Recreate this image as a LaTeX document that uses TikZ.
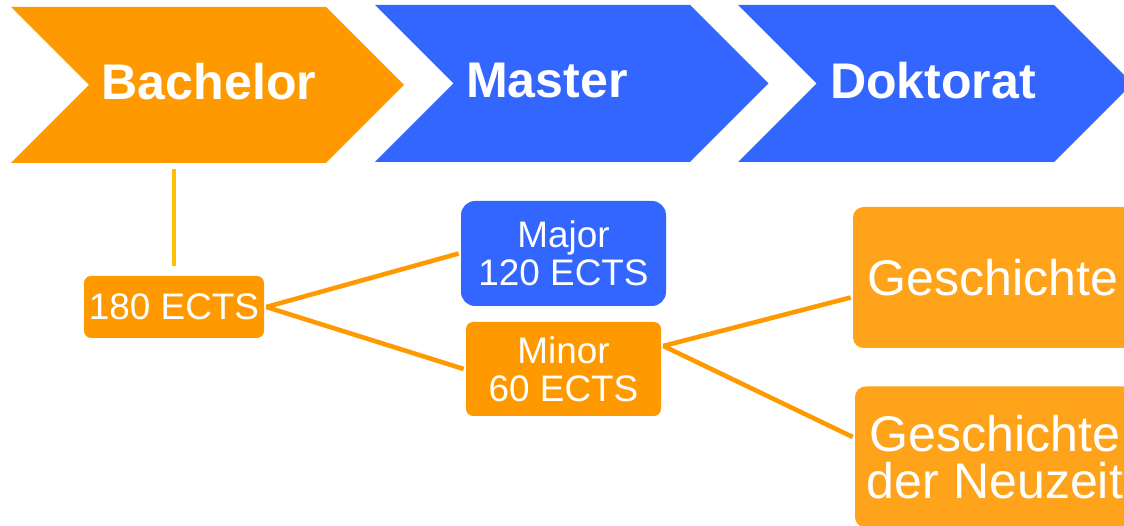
\documentclass[tikz,border=0pt]{standalone}
\usepackage{fontspec}
\setmainfont{Liberation Sans}
\usepackage{tikz}
\definecolor{hsorange}{HTML}{FF9900}
\definecolor{hsblue}{HTML}{3366FF}
\definecolor{hsyellow}{HTML}{FFC000}
\definecolor{hslight}{HTML}{FFA31A}

\begin{document}
\begin{tikzpicture}[-,line width=2.6pt]
    \tikzstyle{every node}=[text=white, align=center]
    \tikzstyle{stage}=[font=\fontsize{28.5}{34}\selectfont\bfseries]
    \tikzstyle{ects}=[rectangle, rounded corners=4pt, inner sep=0pt, font=\fontsize{21}{21.5}\selectfont]
    \tikzstyle{fach}=[rectangle, rounded corners=6pt, fill=hslight, inner sep=0pt, minimum width=5.6cm, minimum height=2.82cm, font=\fontsize{28.5}{27}\selectfont]
	\clip (0, 0) rectangle (22.48, -10.52);

	\fill [hsorange] (0.22, -0.14) -- (6.52, -0.14) -- (8.08, -1.70) -- (6.52, -3.26) -- (0.22, -3.26) -- (1.78, -1.70) -- cycle;
	\fill [hsblue] (7.50, -0.10) -- (13.80, -0.10) -- (15.37, -1.67) -- (13.80, -3.24) -- (7.50, -3.24) -- (9.07, -1.67) -- cycle;
	\fill [hsblue] (14.76, -0.10) -- (21.08, -0.10) -- (22.65, -1.67) -- (21.08, -3.24) -- (14.76, -3.24) -- (16.33, -1.67) -- cycle;

	\node [stage] (bachelor) at (4.18, -1.63) {Bachelor};
	\node [stage] (master) at (10.94, -1.62) {Master};
	\node [stage] (doktorat) at (18.66, -1.62) {Doktorat};

	\node [ects, fill=hsorange, minimum width=3.6cm, minimum height=1.24cm] (ects180) at (3.48, -6.14) {180 ECTS};
	\node [ects, fill=hsblue, rounded corners=8pt, minimum width=4.1cm, minimum height=2.1cm] (major) at (11.27, -5.07) {Major\\120 ECTS};
	\node [ects, fill=hsorange, minimum width=3.9cm, minimum height=1.88cm] (minor) at (11.27, -7.38) {Minor\\60 ECTS};

	\node [fach] (gesch) at (19.86, -5.55) {Geschichte};
	\node [fach] (neuzeit) at (19.90, -9.14) {Geschichte\\der Neuzeit};

	\coordinate (bachelorfoot) at (3.48, -3.38);
	\draw [hsyellow, line width=2.8pt, shorten >=0.16cm] (bachelorfoot) -- (ects180.north);

	\draw [hsorange] (ects180.east) -- (major.west);
	\draw [hsorange] (ects180.east) -- (minor.west);
	\draw [hsorange] (minor.13) -- (gesch.188);
	\draw [hsorange] (minor.13) -- (neuzeit.172);
\end{tikzpicture}
\end{document}
